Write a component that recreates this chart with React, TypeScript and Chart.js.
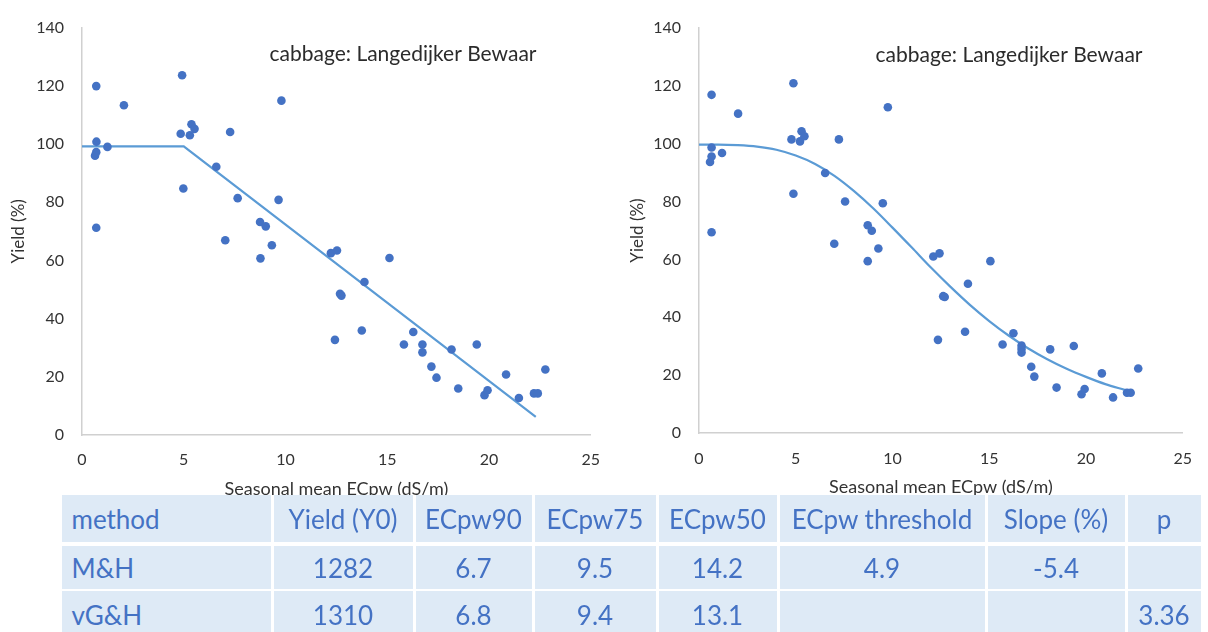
import React, { useEffect, useRef } from 'react';
import { Chart, registerables } from 'chart.js';

Chart.register(...registerables);

// ---------- data ----------
const xTickValues = [0, 5, 10, 15, 20, 25];
const yTickValues = [0, 20, 40, 60, 80, 100, 120, 140];

const chartTitle = 'cabbage: Langedijker Bewaar';
const xAxisTitle = 'Seasonal mean ECpw (dS/m)';
const yAxisTitle = 'Yield (%)';

// left panel: Maas & Hoffman
const mhPointX = [0.7, 2.06, 0.71, 0.7, 0.64, 1.25, 0.7, 4.92, 4.85, 5.3, 5.38, 5.53, 4.98, 7.28, 6.6, 7.65, 9.8, 9.66, 7.04, 8.75, 9.03, 8.77, 9.33, 12.23, 12.53, 12.68, 12.75, 12.43, 13.88, 13.75, 15.11, 15.82, 16.28, 16.73, 16.73, 17.17, 17.42, 18.16, 18.49, 19.4, 19.78, 19.93, 20.84, 21.47, 22.21, 22.4, 22.77];
const mhPointY = [119.9, 113.3, 100.8, 97.2, 96.0, 99.0, 71.2, 123.6, 103.5, 103.0, 106.8, 105.2, 84.7, 104.1, 92.2, 81.4, 114.9, 80.8, 66.9, 73.2, 71.7, 60.7, 65.2, 62.5, 63.4, 48.5, 47.9, 32.7, 52.6, 35.9, 60.8, 31.1, 35.4, 31.1, 28.4, 23.5, 19.7, 29.4, 16.0, 31.1, 13.7, 15.4, 20.8, 12.7, 14.3, 14.3, 22.5];
const mhLineX = [0, 5.0, 22.3];
const mhLineY = [99.2, 99.2, 6.2];

// right panel: van Genuchten & Hoffman
const vgPointX = [0.65, 2.02, 0.65, 0.65, 0.57, 1.19, 0.65, 4.88, 4.78, 5.22, 5.3, 5.45, 4.88, 7.23, 6.52, 7.55, 9.76, 9.5, 6.99, 8.72, 8.93, 8.72, 9.27, 12.11, 12.43, 12.62, 12.7, 12.35, 13.9, 13.75, 15.06, 15.69, 16.25, 16.67, 16.67, 16.67, 17.17, 17.33, 18.15, 18.48, 19.37, 19.77, 19.93, 20.82, 21.4, 22.12, 22.31, 22.7];
const vgPointY = [116.9, 110.4, 98.7, 95.6, 93.7, 96.8, 69.4, 120.9, 101.5, 100.8, 104.3, 102.6, 82.7, 101.5, 89.9, 80.0, 112.6, 79.4, 65.4, 71.8, 69.9, 59.4, 63.8, 61.0, 62.1, 47.3, 47.0, 32.2, 51.6, 35.0, 59.4, 30.6, 34.5, 30.2, 29.0, 27.8, 22.9, 19.5, 28.9, 15.7, 30.1, 13.4, 15.2, 20.6, 12.3, 13.9, 13.9, 22.3];
const vgCurveX = [0, 1, 2, 3, 4, 5, 6, 7, 8, 9, 10, 11, 12, 13, 14, 15, 16, 17, 18, 19, 20, 21, 22, 22.2];
const vgCurveY = [99.7, 99.7, 99.5, 99.0, 97.9, 95.9, 93.0, 88.9, 83.7, 77.7, 71.0, 64.1, 57.1, 50.5, 44.3, 38.7, 33.7, 29.3, 25.5, 22.2, 19.4, 16.9, 14.9, 14.5];

// table
const tableHeader = ['method', 'Yield (Y0)', 'ECpw90', 'ECpw75', 'ECpw50', 'ECpw threshold', 'Slope (%)', 'p'];
const tableRowMH = ['M&H', '1282', '6.7', '9.5', '14.2', '4.9', '-5.4', ''];
const tableRowVG = ['vG&H', '1310', '6.8', '9.4', '13.1', '', '', '3.36'];

// ---------- styling ----------
const FONT = 'Lato, "Open Sans", sans-serif';
const POINT_COLOR = '#4472C4';
const LINE_COLOR = '#5B9BD5';
const TEXT_COLOR = '#333333';
const AXIS_COLOR = '#d0d0d0';

const panelTitlePlugin = {
  id: 'panelTitle',
  afterDatasetsDraw(chart: any, _args: any, opts: any) {
    const { ctx, chartArea } = chart;
    ctx.save();
    ctx.font = opts.font;
    ctx.fillStyle = opts.color;
    ctx.textAlign = 'center';
    ctx.textBaseline = 'middle';
    ctx.fillText(opts.text, chartArea.left + opts.dx, chartArea.top + opts.dy);
    ctx.restore();
  },
};

type PanelProps = {
  left: number;
  width: number;
  height: number;
  pointX: number[];
  pointY: number[];
  lineX: number[];
  lineY: number[];
  smooth: boolean;
  pad: { left: number; right: number; top: number };
  yAxisWidth: number;
  xAxisHeight: number;
  xTickPad: number;
  xTitlePadBottom: number;
  yTitlePad: number;
  titleDx: number;
  titleDy: number;
};

function Panel(p: PanelProps) {
  const ref = useRef<HTMLCanvasElement | null>(null);
  useEffect(() => {
    if (!ref.current) return;
    const points = p.pointX.map((x, i) => ({ x, y: p.pointY[i] }));
    const line = p.lineX.map((x, i) => ({ x, y: p.lineY[i] }));
    const chart = new Chart(ref.current, {
      type: 'scatter',
      data: {
        datasets: [
          {
            data: points,
            backgroundColor: POINT_COLOR,
            borderWidth: 0,
            pointRadius: 4.3,
            showLine: false,
          },
          {
            data: line,
            showLine: true,
            borderColor: LINE_COLOR,
            borderWidth: 2.2,
            pointRadius: 0,
            tension: 0,
            cubicInterpolationMode: p.smooth ? 'monotone' : 'default',
          } as any,
        ],
      },
      options: {
        animation: false,
        responsive: false,
        layout: { padding: { left: p.pad.left, right: p.pad.right, top: p.pad.top, bottom: 0 } },
        plugins: {
          legend: { display: false },
          tooltip: { enabled: false },
          panelTitle: {
            text: chartTitle,
            font: `21px ${FONT}`,
            color: '#2b2b2b',
            dx: p.titleDx,
            dy: p.titleDy,
          },
        } as any,
        scales: {
          x: {
            type: 'linear',
            min: 0,
            max: 25,
            afterBuildTicks: (s: any) => {
              s.ticks = xTickValues.map((v) => ({ value: v }));
            },
            afterFit: (s: any) => {
              s.height = p.xAxisHeight;
            },
            grid: { display: false, drawTicks: false },
            border: { display: true, color: AXIS_COLOR, width: 1.5 },
            ticks: { padding: p.xTickPad, color: TEXT_COLOR, font: { family: FONT, size: 16 } },
            title: {
              display: true,
              text: xAxisTitle,
              color: TEXT_COLOR,
              font: { family: FONT, size: 18 },
              padding: { top: 0, bottom: p.xTitlePadBottom },
            },
          },
          y: {
            type: 'linear',
            min: 0,
            max: 140,
            afterBuildTicks: (s: any) => {
              s.ticks = yTickValues.map((v) => ({ value: v }));
            },
            afterFit: (s: any) => {
              s.width = p.yAxisWidth;
            },
            grid: { display: false, drawTicks: false },
            border: { display: true, color: AXIS_COLOR, width: 1.5 },
            ticks: { padding: 18, color: TEXT_COLOR, font: { family: FONT, size: 16 } },
            title: {
              display: true,
              text: yAxisTitle,
              color: TEXT_COLOR,
              font: { family: FONT, size: 17 },
              padding: { top: p.yTitlePad, bottom: 0 },
            },
          },
        },
      },
      plugins: [panelTitlePlugin],
    });
    return () => chart.destroy();
  }, []);
  return (
    <canvas
      ref={ref}
      width={p.width}
      height={p.height}
      style={{ position: 'absolute', left: p.left, top: 0, width: p.width, height: p.height }}
    />
  );
}

const colEdges = [60, 272, 414, 533, 657, 778, 986, 1126, 1202];
const rowTops = [495, 546, 591];
const rowHeights = [47, 43, 48];

function DataTable() {
  const rows = [tableHeader, tableRowMH, tableRowVG];
  const cells: any[] = [];
  rows.forEach((row, r) => {
    row.forEach((txt, c) => {
      const l = colEdges[c] + 1.5;
      const w = colEdges[c + 1] - colEdges[c] - 3;
      cells.push(
        <div
          key={`${r}-${c}`}
          style={{
            position: 'absolute',
            left: l,
            top: rowTops[r],
            width: w,
            height: rowHeights[r],
            background: '#DEEAF6',
            color: POINT_COLOR,
            fontFamily: FONT,
            fontSize: 26,
            display: 'flex',
            alignItems: 'center',
            justifyContent: c === 0 ? 'flex-start' : 'center',
            paddingLeft: c === 0 ? 10 : 0,
            boxSizing: 'border-box',
            whiteSpace: 'nowrap',
          }}
        >
          {txt}
        </div>
      );
    });
  });
  return <>{cells}</>;
}

export default function App() {
  return (
    <div
      style={{
        position: 'fixed',
        left: 0,
        top: 0,
        width: 1208,
        height: 632,
        overflow: 'hidden',
        background: '#ffffff',
      }}
    >
      <Panel
        left={0}
        width={615}
        height={500}
        pointX={mhPointX}
        pointY={mhPointY}
        lineX={mhLineX}
        lineY={mhLineY}
        smooth={false}
        pad={{ left: 0, right: 12, top: 21 }}
        yAxisWidth={82}
        xAxisHeight={65}
        xTickPad={15}
        xTitlePadBottom={0}
        yTitlePad={8}
        titleDx={321}
        titleDy={27}
      />
      <Panel
        left={615}
        width={593}
        height={500}
        pointX={vgPointX}
        pointY={vgPointY}
        lineX={vgCurveX}
        lineY={vgCurveY}
        smooth={true}
        pad={{ left: 0, right: 18, top: 28 }}
        yAxisWidth={84}
        xAxisHeight={67}
        xTickPad={16}
        xTitlePadBottom={2}
        yTitlePad={12}
        titleDx={310}
        titleDy={27}
      />
      <DataTable />
    </div>
  );
}
